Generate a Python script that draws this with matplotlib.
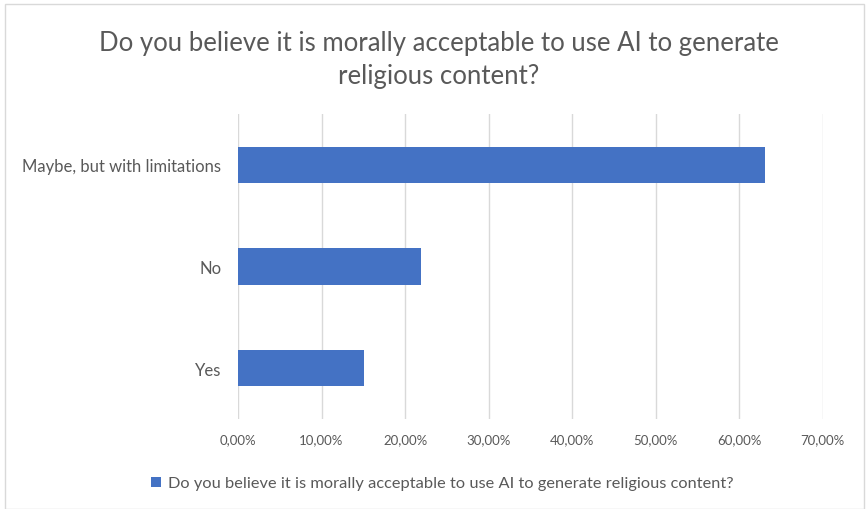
import matplotlib
matplotlib.use("Agg")
import matplotlib.pyplot as plt
from matplotlib.patches import Rectangle
from matplotlib.ticker import FuncFormatter

TITLE = "Do you believe it is morally acceptable to use AI to generate\nreligious content?"
SERIES_NAME = "Do you believe it is morally acceptable to use AI to generate religious content?"
categories = ["Yes", "No", "Maybe, but with limitations"]
percentages = [15.1, 21.9, 63.1]
x_ticks = [0, 10, 20, 30, 40, 50, 60, 70]

plt.rcParams["font.family"] = ["Lato", "DejaVu Sans"]

fig = plt.figure(figsize=(8.67, 5.10), dpi=100)
ax = fig.add_axes([0.2745, 0.1765, 0.6745, 0.598])

bars = ax.barh(categories, percentages, height=0.355, color="#4472C4", label=SERIES_NAME, zorder=3)

ax.set_xlim(0, 70)
ax.set_ylim(-0.5, 2.5)
ax.set_xticks(x_ticks)
ax.xaxis.set_major_formatter(FuncFormatter(lambda v, p: f"{v:.2f}%".replace(".", ",")))
ax.grid(axis="x", color="#D9D9D9", linewidth=1, zorder=0)
for s in ax.spines.values():
    s.set_visible(False)
ax.tick_params(axis="both", length=0, labelcolor="#595959")
ax.tick_params(axis="x", pad=10, labelsize=9.5)
ax.tick_params(axis="y", pad=12, labelsize=12)

fig.suptitle(TITLE, x=0.506, y=0.94, fontsize=18.5, color="#595959", linespacing=1.4)

fig.legend(handles=[bars], labels=[SERIES_NAME], loc="center", bbox_to_anchor=(0.51, 0.05),
           frameon=False, fontsize=11.8, labelcolor="#595959", handlelength=0.6, handleheight=0.6,
           handletextpad=0.4)

fig.patches.append(Rectangle((0.006, 0.0), 0.99, 0.99, transform=fig.transFigure, fill=False,
                             edgecolor="#D9D9D9", linewidth=1))

fig.savefig("out.png", dpi=100)
